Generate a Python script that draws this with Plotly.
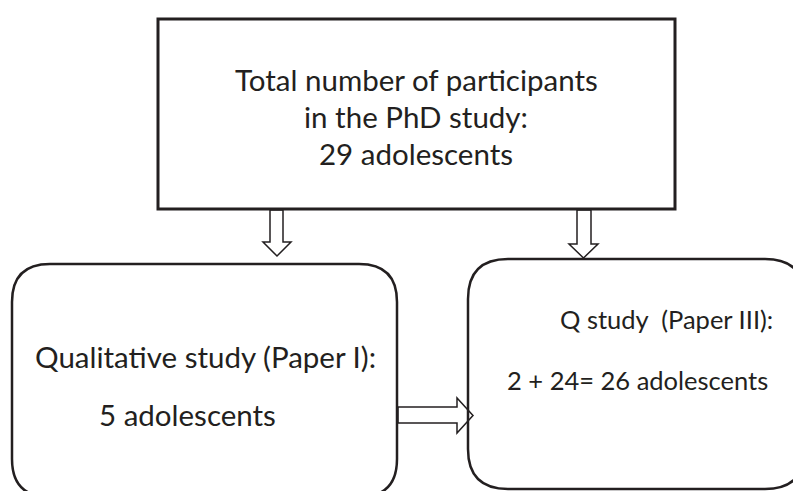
import plotly.graph_objects as go

# ---- content ----
top_lines = ["Total number of participants", "in the PhD study:", "29 adolescents"]
left_lines = ["Qualitative study (Paper I):", "5 adolescents"]
right_lines = ["Q study  (Paper III):", "2 + 24= 26 adolescents"]

W, H = 793, 491
INK = "#231f20"
FONT = "Lato"

fig = go.Figure()

def rrect(x0, y0, x1, y1, r):
    return (f"M {x0+r},{y0} L {x1-r},{y0} Q {x1},{y0} {x1},{y0+r} "
            f"L {x1},{y1-r} Q {x1},{y1} {x1-r},{y1} L {x0+r},{y1} "
            f"Q {x0},{y1} {x0},{y1-r} L {x0},{y0+r} Q {x0},{y0} {x0+r},{y0} Z")

def down_arrow(sx0, sx1, y0, yh, hx0, hx1, ytip):
    xm = (hx0 + hx1) / 2
    return (f"M {sx0},{y0} L {sx1},{y0} L {sx1},{yh} L {hx1},{yh} L {xm},{ytip} "
            f"L {hx0},{yh} L {sx0},{yh} Z")

def right_arrow(x0, xh, sy0, sy1, hy0, hy1, xtip):
    ym = (hy0 + hy1) / 2
    return (f"M {x0},{sy0} L {xh},{sy0} L {xh},{hy0} L {xtip},{ym} L {xh},{hy1} "
            f"L {xh},{sy1} L {x0},{sy1} Z")

shapes = []
arrow_style = dict(type="path", fillcolor="white", line=dict(color=INK, width=1.5), layer="below")
shapes.append(dict(path=down_arrow(270, 283, 210, 242, 263, 291, 256), **arrow_style))
shapes.append(dict(path=down_arrow(577, 591, 210, 244, 569, 598, 258), **arrow_style))
shapes.append(dict(path=right_arrow(398, 457, 407, 423, 398, 433, 473), **arrow_style))

shapes.append(dict(type="rect", x0=158, y0=19, x1=675, y1=209,
                   line=dict(color=INK, width=3), fillcolor="rgba(0,0,0,0)"))
shapes.append(dict(type="path", path=rrect(12, 264, 397, 497, 38),
                   line=dict(color=INK, width=2.5), fillcolor="rgba(0,0,0,0)"))
shapes.append(dict(type="path", path=rrect(468, 259, 805, 489, 40),
                   line=dict(color=INK, width=2.5), fillcolor="rgba(0,0,0,0)"))

annotations = []
def add_text(txt, x, y, size):
    annotations.append(dict(x=x, y=y, text=txt, showarrow=False, xref="x", yref="y",
                            xanchor="center", yanchor="middle",
                            font=dict(family=FONT, size=size, color=INK)))

for t, y in zip(top_lines, [79, 116, 153]):
    add_text(t, 416, y, 29.5)
for t, (x, y) in zip(left_lines, [(205, 356), (187, 414)]):
    add_text(t, x, y, 29.5)
for t, (x, y) in zip(right_lines, [(666, 319), (637, 380)]):
    add_text(t, x, y, 25.5)

fig.update_layout(
    width=W, height=H, margin=dict(l=0, r=0, t=0, b=0),
    paper_bgcolor="white", plot_bgcolor="white",
    xaxis=dict(range=[0, W], visible=False, fixedrange=True),
    yaxis=dict(range=[H, 0], visible=False, fixedrange=True),
    shapes=shapes, annotations=annotations, showlegend=False,
)

fig.write_html("out.html", config={"displayModeBar": False},
               post_script="document.body.style.margin='0';document.body.style.overflow='hidden';")
